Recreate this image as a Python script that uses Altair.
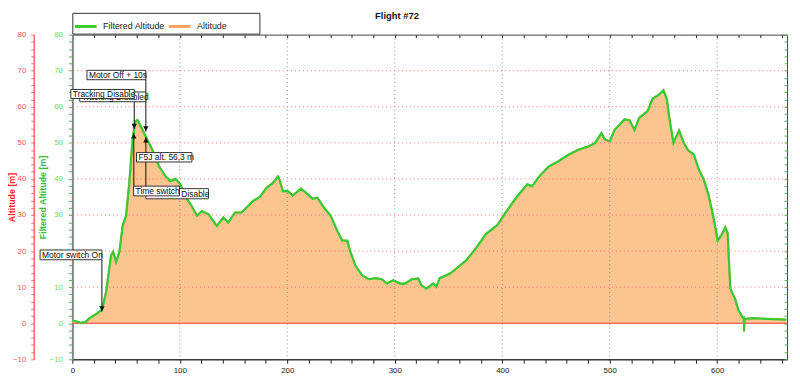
import altair as alt
import pandas as pd

# ---- altitude profile (time [s], altitude [m]) ----
time_s = [0, 4, 8, 12, 16, 22, 27.5, 31.5, 36, 38, 40.7, 43.8, 46.8, 50, 53, 56, 58.5, 60.6,
          63.8, 68.4, 74.5, 80.6, 86.8, 91.4, 96, 100.6, 105, 111, 116, 120.5, 126.7, 134.4,
          140.5, 145, 151.3, 157.4, 163.6, 168.2, 174.4, 180.5, 186.6, 191.2, 192.8, 195.9,
          200.5, 205, 212.7, 217.3, 223.5, 228, 234.3, 240.4, 246.5, 251.2, 255.8, 258.8,
          263.4, 269.6, 275.8, 281.8, 288, 292.6, 298.8, 304.9, 309.5, 315.7, 321.8, 324.9,
          329.5, 335.7, 338.7, 341.8, 351, 357.1, 366.4, 375.6, 384.8, 395.6, 403.2, 414,
          423.2, 427.8, 433.9, 443.1, 452.3, 461.6, 470.8, 480, 486.2, 492.3, 495.4, 500,
          504.6, 513.8, 518.4, 523, 527.6, 535.3, 540, 546.1, 550, 553.2, 555.3, 559.3, 564.5,
          569.1, 572.8, 578.3, 582.9, 587.6, 592.2, 596.2, 600.5, 604.4, 607.5, 609.7, 612.2,
          616.8, 619.8, 623.8, 624.8, 625, 625.3, 633.6, 645.9, 655, 664.3]
altitude_m = [0.8, 0.5, 0.1, 0.3, 1.4, 2.5, 3.7, 8.8, 18.8, 19.8, 17.0, 19.8, 27.0, 29.8, 39.0,
              50.8, 55.9, 56.3, 54.5, 51.7, 48.0, 43.5, 40.7, 39.4, 40.0, 38.5, 35.2, 32.5, 29.8,
              31.1, 30.2, 27.0, 29.3, 27.9, 30.7, 30.7, 32.5, 33.9, 35.0, 37.5, 38.9, 40.7, 39.8,
              36.6, 36.6, 35.4, 37.3, 36.2, 34.5, 34.8, 32.0, 29.8, 25.6, 22.9, 22.9, 19.7, 16.0,
              13.3, 12.2, 12.5, 12.2, 11.0, 11.9, 11.0, 11.0, 12.2, 12.4, 10.5, 9.6, 11.0, 10.1,
              12.5, 13.7, 15.1, 17.4, 20.8, 24.7, 27.3, 30.7, 35.2, 38.5, 38.0, 40.5, 43.4, 44.9,
              46.7, 48.1, 49.0, 49.9, 52.7, 51.0, 50.4, 53.6, 56.5, 56.3, 53.6, 57.0, 58.8, 62.3,
              63.4, 64.6, 62.0, 57.2, 50.0, 53.4, 49.9, 48.0, 46.7, 42.6, 39.8, 35.2, 29.8, 22.9,
              24.7, 26.6, 25.0, 9.6, 6.6, 3.6, 1.6, 1.6, -2.3, 1.2, 1.4, 1.2, 1.1, 1.0]

# ---- axes ----
x_ticks = list(range(0, 661, 20))
y_ticks = list(range(-10, 81, 2))
x_grid = [100, 200, 300, 400, 500, 600]
y_grid = [10, 20, 30, 40, 50, 60, 70]
x_domain = [0, 665]
y_domain = [-10, 80]
series = ["Filtered Altitude", "Altitude"]

# ---- annotations (data units) ----
ann_label = ["Motor switch On", "Tracking Disabled", "Tracking Disable", "Motor Off + 10s",
             "F5J alt. 56,3 m", "Disable", "Time switch"]
ann_x1 = [-30.0, 6.9, -1.4, 13.6, 59.7, 68.4, 57.0]
ann_x2 = [27.5, 68.4, 57.6, 68.4, 111.3, 126.6, 99.7]
ann_top = [20.3, 64.1, 64.8, 70.1, 47.3, 37.3, 38.0]
ann_bottom = [17.6, 61.4, 62.3, 67.5, 44.7, 34.5, 35.3]
ann_text_x = [-30.0, 6.9, -1.4, 13.6, 59.7, 99.6, 57.0]
ann_front = [1, 0, 1, 1, 1, 0, 1]

conn_x = [27.5, 57.6, 68.4, 57.2, 68.4]
conn_from = [17.6, 62.3, 67.5, 38.0, 37.3]
conn_tip = [3.2, 53.8, 53.1, 52.7, 51.6]
conn_dir = ["down", "down", "down", "up", "up"]

FONT = "Liberation Sans"
df = pd.DataFrame({"t": time_s, "alt": altitude_m})
ann = pd.DataFrame({"label": ann_label, "x1": ann_x1, "x2": ann_x2, "top": ann_top,
                    "bottom": ann_bottom, "tx": ann_text_x, "front": ann_front})
ann["ym"] = (ann["top"] + ann["bottom"]) / 2
conn = pd.DataFrame({"x": conn_x, "y0": conn_from, "tip": conn_tip, "dir": conn_dir})

xs = alt.Scale(domain=x_domain, nice=False, zero=False)
ys = alt.Scale(domain=y_domain, nice=False, zero=False)
cs = alt.Scale(domain=series, range=["#33CC33", "#F7A35C"])

legend = alt.Legend(title=" ", titleOrient="right", titlePadding=32, titleFontSize=4,
                    orient="none", legendX=0, legendY=-22, direction="horizontal",
                    strokeColor="#333", fillColor="white", padding=1, symbolType="stroke",
                    symbolSize=484, symbolStrokeWidth=3, labelFontSize=9, labelFont=FONT,
                    labelColor="#222", labelOffset=5, columnPadding=-3, gridAlign="all")

ylab = "datum.value % 10 === 0 ? datum.label : ''"
xlab = "datum.value % 100 === 0 ? datum.label : ''"

red_axis = alt.Axis(orient="left", offset=39, title="Altitude [m]", values=y_ticks, labelExpr=ylab,
                    labelOverlap=False, domainColor="#FF6666", domainWidth=1.5, tickColor="#FF6666",
                    tickSize=3, labelColor="#FF5555", labelFontSize=8, labelFont=FONT, labelPadding=5,
                    titleColor="#FF2020", titleFontSize=9, titleFont=FONT, titleFontWeight="bold",
                    titleX=-17, grid=False)
green_axis = alt.Axis(orient="left", offset=0, title="Filtered Altitude [m]", values=y_ticks,
                      labelExpr=ylab, labelOverlap=False, domainColor="#888888", domainWidth=2,
                      tickColor="#44BB44", tickSize=4, labelColor="#66DD66", labelFontSize=8,
                      labelFont=FONT, labelPadding=6, titleColor="#33BB33", titleFontSize=9,
                      titleFont=FONT, titleFontWeight="bold", titleX=-25, grid=False)
right_axis = alt.Axis(orient="right", values=y_ticks, labels=False, title=None, domain=False,
                      offset=-3, tickColor="#44BB44", tickSize=3, grid=False)
bottom_axis = alt.Axis(orient="bottom", values=x_ticks, labelExpr=xlab, labelOverlap=False,
                       labelFlush=False, title=None, domainColor="#222", tickColor="#222", tickSize=4,
                       labelColor="#222", labelFontSize=8, labelFont=FONT, labelPadding=3, grid=False)
top_axis = alt.Axis(orient="top", values=x_ticks, labels=False, title=None, domain=False,
                    offset=-3, tickColor="#222", tickSize=3, grid=False)

area = alt.Chart(df).mark_area(color="#FCC590", opacity=1).encode(
    x=alt.X("t:Q", scale=xs, axis=None),
    y=alt.Y("alt:Q", scale=ys, axis=red_axis),
)
xgrid = alt.Chart(pd.DataFrame({"g": x_grid})).mark_rule(color="#888888", strokeDash=[1, 3]).encode(
    x=alt.X("g:Q", scale=xs, axis=None))
ygrid = alt.Chart(pd.DataFrame({"g": y_grid})).mark_rule(color="#FF7070", strokeDash=[1, 3]).encode(
    y=alt.Y("g:Q", scale=ys, axis=None))
zero = alt.Chart(pd.DataFrame({"z": [0]})).mark_rule(color="#FF3333", strokeWidth=1.2).encode(
    y=alt.Y("z:Q", scale=ys, axis=None))
line_alt = alt.Chart(df).transform_calculate(series="'Altitude'").mark_line(strokeWidth=2).encode(
    x=alt.X("t:Q", scale=xs, axis=top_axis),
    y=alt.Y("alt:Q", scale=ys, axis=right_axis),
    color=alt.Color("series:N", scale=cs, legend=legend),
)
line_f = alt.Chart(df).transform_calculate(series="'Filtered Altitude'").mark_line(strokeWidth=2.2).encode(
    x=alt.X("t:Q", scale=xs, axis=bottom_axis),
    y=alt.Y("alt:Q", scale=ys, axis=green_axis),
    color=alt.Color("series:N", scale=cs, legend=legend),
)
connectors = alt.Chart(conn).mark_rule(color="#111", strokeWidth=1, clip=False).encode(
    x=alt.X("x:Q", scale=xs, axis=None),
    y=alt.Y("y0:Q", scale=ys, axis=None),
    y2="tip:Q",
)
arrow_down = alt.Chart(conn).transform_filter("datum.dir === 'down'").mark_point(
    shape="triangle-down", filled=True, color="#111", size=30, opacity=1, yOffset=-3).encode(
    x=alt.X("x:Q", scale=xs, axis=None), y=alt.Y("tip:Q", scale=ys, axis=None))
arrow_up = alt.Chart(conn).transform_filter("datum.dir === 'up'").mark_point(
    shape="triangle-up", filled=True, color="#111", size=30, opacity=1, yOffset=3).encode(
    x=alt.X("x:Q", scale=xs, axis=None), y=alt.Y("tip:Q", scale=ys, axis=None))


def boxes(front):
    base = alt.Chart(ann).transform_filter(f"datum.front === {front}")
    r = base.mark_rect(fill="white", stroke="#333", strokeWidth=1, clip=False).encode(
        x=alt.X("x1:Q", scale=xs, axis=None), x2="x2:Q",
        y=alt.Y("top:Q", scale=ys, axis=None), y2="bottom:Q")
    t = base.mark_text(align="left", baseline="middle", dx=2, fontSize=8.5, font=FONT,
                       color="#111", clip=False).encode(
        x=alt.X("tx:Q", scale=xs, axis=None), y=alt.Y("ym:Q", scale=ys, axis=None), text="label:N")
    return [r, t]


chart = alt.layer(
    area, xgrid, ygrid, zero, line_alt, line_f, connectors, arrow_down, arrow_up,
    *boxes(0), *boxes(1),
).resolve_axis(x="independent", y="independent").properties(
    width=722, height=328,
    autosize=alt.AutoSizeParams(type="none"),
    padding={"left": 65, "top": 25, "right": 5, "bottom": 18},
    title=alt.TitleParams("Flight #72", fontSize=9.5, fontWeight="bold", font=FONT, color="#111",
                          dx=-33, dy=14, anchor="middle", offset=6),
).configure_view(stroke="#444", strokeWidth=1)

chart.save("out.html", embed_options={"renderer": "svg", "actions": False})
